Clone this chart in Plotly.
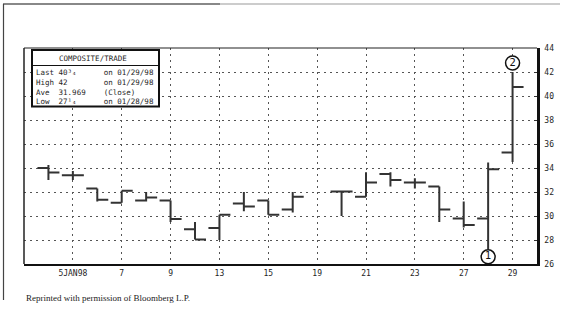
import plotly.graph_objects as go

# Slots on the time axis (weekdays, Jan 1998)
sessions = ["Jan 1", "Jan 2", "Jan 5", "Jan 6", "Jan 7", "Jan 8", "Jan 9",
            "Jan 12", "Jan 13", "Jan 14", "Jan 15", "Jan 16", "Jan 19",
            "Jan 20", "Jan 21", "Jan 22", "Jan 23", "Jan 26", "Jan 27",
            "Jan 28", "Jan 29", "Jan 30"]

# Days with a bar
bar_days = ["Jan 2", "Jan 5", "Jan 6", "Jan 7", "Jan 8", "Jan 9", "Jan 12",
            "Jan 13", "Jan 14", "Jan 15", "Jan 16", "Jan 20", "Jan 21",
            "Jan 22", "Jan 23", "Jan 26", "Jan 27", "Jan 28", "Jan 29"]
opens  = [34.0, 33.4, 32.3, 31.1, 31.3, 31.3, 28.9, 29.0, 31.05, 31.3, 30.55,
          32.05, 31.6, 33.5, 32.8, 32.45, 29.8, 29.8, 35.3]
highs  = [34.25, 33.75, 32.3, 32.1, 32.0, 31.3, 29.5, 30.1, 32.0, 31.3, 32.0,
          32.05, 33.65, 33.65, 33.15, 32.45, 31.2, 34.45, 42.0]
lows   = [33.0, 33.0, 31.2, 31.1, 31.2, 29.5, 28.05, 28.0, 30.4, 30.1, 30.3,
          30.0, 31.6, 32.45, 32.3, 29.5, 29.05, 27.25, 34.5]
closes = [33.625, 33.4, 31.35, 32.1, 31.55, 29.75, 28.05, 30.1, 30.8, 30.1, 31.6,
          32.05, 32.8, 33.0, 32.8, 30.55, 29.25, 33.9, 40.75]

tick_days = ["Jan 5", "Jan 7", "Jan 9", "Jan 13", "Jan 15", "Jan 19",
             "Jan 21", "Jan 23", "Jan 27", "Jan 29"]
tick_text = ["5JAN98", "7", "9", "13", "15", "19", "21", "23", "27", "29"]

marker_days = ["Jan 28", "Jan 29"]
marker_y = [26.6, 42.75]
marker_text = ["1", "2"]

box_title = "COMPOSITE/TRADE"
box_left = ["Last 40³₄", "High 42", "Ave  31.969", "Low  27¹₄"]
box_right = ["on 01/29/98", "on 01/29/98", "(Close)", "on 01/28/98"]

footer = "Reprinted with permission of Bloomberg L.P."

W, H = 571, 322
PL, PR, PT, PB = 24, 537, 48, 264          # plot area in window pixels
L, R, T, B = PL, W - PR, PT, H - PB
pw, ph = PR - PL, PB - PT


def px(x):
    return (x - PL) / pw


def py(y):
    return (PB - y) / ph


mono = "DejaVu Sans Mono"
ink = "#1e1e1e"

fig = go.Figure()
fig.add_trace(go.Ohlc(
    x=bar_days, open=opens, high=highs, low=lows, close=closes,
    increasing=dict(line=dict(color="#333333", width=2)),
    decreasing=dict(line=dict(color="#333333", width=2)),
    tickwidth=0.45, showlegend=False, hoverinfo="skip",
))
fig.add_trace(go.Scatter(
    x=marker_days, y=marker_y, mode="markers+text", text=marker_text,
    textposition="middle center",
    textfont=dict(family="DejaVu Sans", size=10, color="#111111"),
    marker=dict(symbol="circle", size=14, color="white",
                line=dict(color="#111111", width=1.5)),
    showlegend=False, hoverinfo="skip", cliponaxis=False,
))

fig.update_layout(
    width=W, height=H, autosize=False,
    margin=dict(l=L, r=R, t=T, b=B, pad=0),
    paper_bgcolor="white", plot_bgcolor="white",
    xaxis=dict(
        type="category", categoryorder="array", categoryarray=sessions,
        range=[0, len(sessions) - 1],
        tickmode="array", tickvals=tick_days, ticktext=tick_text,
        tickfont=dict(family=mono, size=8, color=ink),
        showgrid=True, gridcolor="#555555", gridwidth=1, griddash="2px,4px",
        showline=True, linecolor="#111111", linewidth=2,
        ticks="", ticklabelstandoff=0, zeroline=False, automargin=False,
        rangeslider=dict(visible=False), fixedrange=True,
    ),
    yaxis=dict(
        range=[26, 44], dtick=2, tick0=26, side="right",
        tickfont=dict(family=mono, size=8, color=ink),
        showgrid=True, gridcolor="#555555", gridwidth=1, griddash="2px,4px",
        showline=True, linecolor="#111111", linewidth=2.5,
        ticks="inside", ticklen=3, tickcolor="#333333",
        ticklabelstandoff=3, zeroline=False, fixedrange=True, automargin=False,
    ),
)

shapes = []
# plot frame top and left edges
shapes.append(dict(type="line", xref="paper", yref="paper", x0=0, x1=1, y0=1, y1=1,
                   line=dict(color="#222222", width=1.2), layer="above"))
shapes.append(dict(type="line", xref="paper", yref="paper", x0=0, x1=0, y0=0, y1=1,
                   line=dict(color="#222222", width=1.5), layer="above"))
# outer page border
shapes.append(dict(type="line", xref="paper", yref="paper", x0=px(3), x1=px(560),
                   y0=py(4), y1=py(4), line=dict(color="#999999", width=1)))
shapes.append(dict(type="line", xref="paper", yref="paper", x0=px(3), x1=px(220),
                   y0=py(4), y1=py(4), line=dict(color="#444444", width=1.2)))
shapes.append(dict(type="line", xref="paper", yref="paper", x0=px(3.5), x1=px(3.5),
                   y0=py(4), y1=py(300), line=dict(color="#444444", width=1.2)))
# info box
shapes.append(dict(type="rect", xref="paper", yref="paper", x0=px(32), x1=px(159),
                   y0=py(106.5), y1=py(50), fillcolor="white",
                   line=dict(color="#111111", width=2), layer="above"))
shapes.append(dict(type="line", xref="paper", yref="paper", x0=px(32), x1=px(159),
                   y0=py(65.5), y1=py(65.5), line=dict(color="#111111", width=1.2),
                   layer="above"))
fig.update_layout(shapes=shapes)

box_rows = "<br>".join(f"{a:<15}{b}" for a, b in zip(box_left, box_right))

ann = []
ann.append(dict(text=box_title, xref="paper", yref="paper", x=px(93), y=py(58.5),
                xanchor="center", yanchor="middle", showarrow=False,
                font=dict(family=mono, size=7.5, color=ink)))
ann.append(dict(text=box_rows, xref="paper", yref="paper", x=px(35), y=py(66.5),
                xanchor="left", yanchor="top", align="left", showarrow=False,
                borderpad=0, font=dict(family=mono, size=7.5, color=ink)))
ann.append(dict(text=footer, xref="paper", yref="paper", x=px(24), y=py(298),
                xanchor="left", yanchor="middle", showarrow=False,
                font=dict(family="Liberation Serif", size=9, color="#222222")))
fig.update_layout(annotations=ann)

fig.write_html("out.html", config={"displayModeBar": False},
               post_script="document.body.style.margin='0';")
